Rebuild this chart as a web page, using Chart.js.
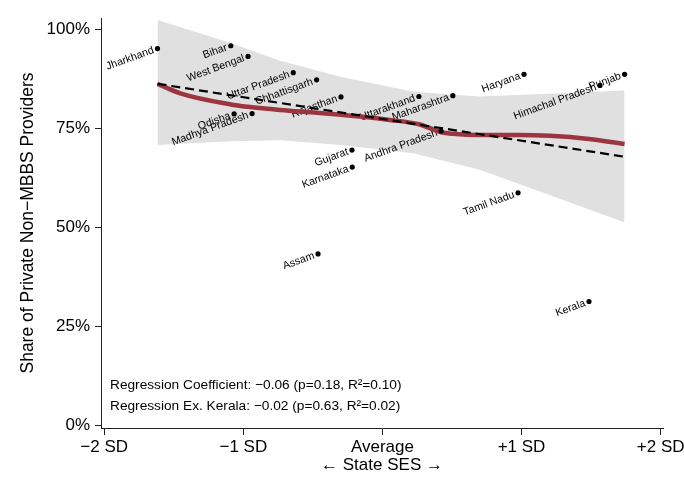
<!DOCTYPE html>
<html lang="en">
<head>
  <meta charset="UTF-8" />
  <title>Private non-MBBS providers vs state SES</title>
  <script src="https://cdn.jsdelivr.net/npm/chart.js"></script>
  <style>
    html, body { margin: 0; padding: 0; background: #fff; }
    #wrap { width: 684px; height: 496px; }
  </style>
</head>
<body>
  <div id="wrap"><canvas id="sesChart" width="684" height="496"></canvas></div>

  <script>
    // state scatter
    const states = ["Jharkhand", "Bihar", "West Bengal", "Uttar Pradesh", "Chhattisgarh", "Rajasthan",
      "Odisha", "Madhya Pradesh", "Uttarakhand", "Maharashtra", "Haryana", "Punjab", "Himachal Pradesh",
      "Andhra Pradesh", "Gujarat", "Karnataka", "Tamil Nadu", "Assam", "Kerala"];
    const sesScore = [-1.617, -1.090, -0.966, -0.641, -0.473, -0.298,
      -1.066, -0.937, 0.262, 0.506, 1.018, 1.741, 1.564,
      0.422, -0.219, -0.217, 0.975, -0.463, 1.485];
    const privateShare = [95.1, 95.8, 93.1, 89.0, 87.2, 82.9,
      78.6, 78.7, 83.0, 83.2, 88.6, 88.6, 85.8,
      74.3, 69.5, 65.2, 58.7, 43.3, 31.3];

    // lowess smoother
    const lowessX = [-1.617, -1.453, -1.090, -0.966, -0.736, -0.473, -0.298, -0.138, 0.054, 0.262, 0.422, 0.506, 0.700, 0.975, 1.203, 1.485, 1.741];
    const lowessY = [86.2, 83.8, 81.0, 80.4, 79.6, 78.9, 78.4, 77.9, 77.1, 76.0, 74.0, 73.6, 73.3, 73.3, 73.1, 72.3, 71.0];

    // confidence band
    const bandX = [-1.617, -1.090, -0.736, -0.300, 0.222, 0.700, 1.275, 1.741];
    const bandUpper = [102.3, 96.5, 92.0, 88.0, 84.2, 83.0, 83.8, 84.5];
    const bandLower = [70.8, 71.7, 72.0, 70.8, 68.7, 64.5, 57.2, 51.2];

    // linear fit
    const fitX = [-1.617, 1.741];
    const fitY = [86.2, 67.8];

    // axes
    const xTickValues = [-2, -1, 0, 1, 2];
    const xTickLabels = ["\u22122 SD", "\u22121 SD", "Average", "+1 SD", "+2 SD"];
    const yTickValues = [0, 25, 50, 75, 100];

    const notes = [
      "Regression Coefficient: \u22120.06 (p=0.18, R\u00b2=0.10)",
      "Regression Ex. Kerala: \u22120.02 (p=0.63, R\u00b2=0.02)"
    ];

    const FONT = "'Liberation Sans', Arial, Helvetica, sans-serif";
    const toPts = (xs, ys) => xs.map((v, i) => ({ x: v, y: ys[i] }));

    // labels go on top of the grey band but under the lines
    const stateLabels = {
      id: 'stateLabels',
      afterDatasetDraw(chart, args) {
        if (chart.data.datasets[args.index].label !== 'ciUpper') return;
        const { ctx, scales: { x, y } } = chart;
        ctx.save();
        ctx.font = '10.7px ' + FONT;
        ctx.fillStyle = '#000';
        ctx.textAlign = 'right';
        ctx.textBaseline = 'middle';
        states.forEach((name, i) => {
          const px = x.getPixelForValue(sesScore[i]);
          const py = y.getPixelForValue(privateShare[i]);
          ctx.save();
          ctx.translate(px - 4, py + 1.5);
          ctx.rotate(-20 * Math.PI / 180);
          ctx.fillText(name, 0, 0);
          ctx.restore();
        });
        ctx.restore();
      }
    };

    const noteText = {
      id: 'noteText',
      afterDraw(chart) {
        const { ctx, chartArea } = chart;
        ctx.save();
        ctx.font = '13.7px ' + FONT;
        ctx.fillStyle = '#000';
        ctx.textAlign = 'left';
        ctx.textBaseline = 'middle';
        ctx.fillText(notes[0], chartArea.left + 9, 385);
        ctx.fillText(notes[1], chartArea.left + 9, 406);
        ctx.restore();
      }
    };

    new Chart(document.getElementById('sesChart'), {
      type: 'scatter',
      data: {
        datasets: [
          {
            label: 'ciUpper',
            data: toPts(bandX, bandUpper),
            showLine: true,
            borderWidth: 0,
            pointRadius: 0,
            backgroundColor: '#e0e0e0',
            fill: '+1',
            order: 6
          },
          {
            label: 'ciLower',
            data: toPts(bandX, bandLower),
            showLine: true,
            borderWidth: 0,
            pointRadius: 0,
            fill: false,
            order: 5
          },
          {
            label: 'lowess',
            data: toPts(lowessX, lowessY),
            showLine: true,
            borderColor: '#9b3641',
            borderWidth: 4.5,
            pointRadius: 0,
            cubicInterpolationMode: 'monotone',
            fill: false,
            order: 3
          },
          {
            label: 'fit',
            data: toPts(fitX, fitY),
            showLine: true,
            borderColor: '#000',
            borderWidth: 2.2,
            borderDash: [9, 5],
            pointRadius: 0,
            fill: false,
            order: 2
          },
          {
            label: 'states',
            data: toPts(sesScore, privateShare),
            pointRadius: 2.6,
            pointBackgroundColor: '#000',
            pointBorderWidth: 0,
            order: 1
          }
        ]
      },
      options: {
        responsive: false,
        animation: false,
        layout: { padding: { top: 18, right: 21, left: 0, bottom: 0 } },
        plugins: { legend: { display: false }, tooltip: { enabled: false } },
        scales: {
          x: {
            type: 'linear',
            min: -2.023,
            max: 2.017,
            afterBuildTicks: (s) => { s.ticks = xTickValues.map(v => ({ value: v })); },
            afterFit: (s) => { s.height = 68; s.paddingLeft = 0; s.paddingRight = 0; },
            ticks: {
              autoSkip: false,
              maxRotation: 0,
              padding: 2,
              color: '#000',
              font: { family: FONT, size: 17 },
              callback: (v) => xTickLabels[xTickValues.indexOf(v)]
            },
            grid: { drawOnChartArea: false, drawTicks: true, tickLength: 7, color: '#222' },
            border: { display: true, color: '#222', width: 1 },
            title: {
              display: true,
              text: '\u2190 State SES \u2192',
              color: '#000',
              font: { family: FONT, size: 17 },
              padding: { top: 0, bottom: 20 }
            }
          },
          y: {
            type: 'linear',
            min: -0.6,
            max: 102.8,
            afterBuildTicks: (s) => { s.ticks = yTickValues.map(v => ({ value: v })); },
            afterFit: (s) => { s.width = 101; s.paddingTop = 0; s.paddingBottom = 0; },
            ticks: {
              autoSkip: false,
              padding: 5,
              color: '#000',
              font: { family: FONT, size: 17 },
              callback: (v) => v + '%'
            },
            grid: { drawOnChartArea: false, drawTicks: true, tickLength: 6, color: '#222' },
            border: { display: true, color: '#222', width: 1 },
            title: {
              display: true,
              text: 'Share of Private Non\u2212MBBS Providers',
              color: '#000',
              font: { family: FONT, size: 17.5 },
              padding: { top: 18, bottom: 0 }
            }
          }
        }
      },
      plugins: [stateLabels, noteText]
    });
  </script>
</body>
</html>
